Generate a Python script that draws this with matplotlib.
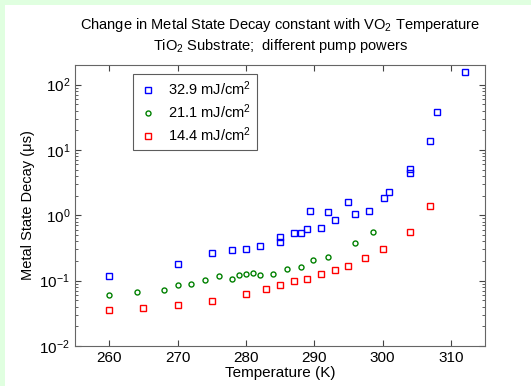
import numpy as np
import matplotlib
matplotlib.use("Agg")
import matplotlib.pyplot as plt
from matplotlib.patches import Rectangle

plt.rcParams['font.family'] = ['Liberation Sans', 'DejaVu Sans']
plt.rcParams['mathtext.fontset'] = 'custom'
plt.rcParams['mathtext.rm'] = 'Liberation Sans'
plt.rcParams['mathtext.it'] = 'Liberation Sans:italic'

# decay constants (us) vs temperature (K) for three pump fluences
t_hi = [260, 270, 275, 278, 280, 282, 285, 285, 287, 288, 289, 289.4, 291, 292,
        293, 295, 296, 298, 300.2, 301, 304, 304, 307, 308, 312]
tau_hi = [0.116, 0.183, 0.263, 0.297, 0.31, 0.337, 0.459, 0.389, 0.53, 0.54, 0.62,
          1.18, 0.64, 1.11, 0.84, 1.58, 1.04, 1.18, 1.85, 2.28, 5.1, 4.4, 13.6, 38.5, 159]

t_mid = [260, 264, 268, 270, 272, 274, 276, 278, 279, 280, 281, 282, 284, 286,
         288, 289.8, 292, 296, 298.6]
tau_mid = [0.0594, 0.066, 0.0727, 0.0868, 0.089, 0.101, 0.118, 0.107, 0.121, 0.127,
           0.13, 0.121, 0.128, 0.153, 0.164, 0.205, 0.231, 0.371, 0.547]

t_lo = [260, 265, 270, 275, 280, 283, 285, 287, 289, 291, 293, 295, 297.5, 300, 304, 307]
tau_lo = [0.035, 0.0384, 0.0423, 0.0487, 0.0624, 0.0753, 0.0859, 0.099, 0.107, 0.125,
          0.148, 0.168, 0.22, 0.303, 0.553, 1.39]

labels = ['32.9 mJ/cm$^2$', '21.1 mJ/cm$^2$', '14.4 mJ/cm$^2$']
x_ticks = [260, 270, 280, 290, 300, 310]

fig = plt.figure(figsize=(5.31, 3.86), dpi=100)
fig.patch.set_facecolor('white')
# light green frame strips on the top and left edges
fig.patches.append(Rectangle((0, 0), 5 / 531, 1, transform=fig.transFigure,
                             facecolor='#e0ffe0', edgecolor='none', zorder=-1))
fig.patches.append(Rectangle((0, 1 - 5 / 386), 1, 5 / 386, transform=fig.transFigure,
                             facecolor='#e0ffe0', edgecolor='none', zorder=-1))

ax = fig.add_axes([75 / 531, 1 - 346 / 386, 410 / 531, 281 / 386])
ax.semilogy(t_hi, tau_hi, 's', ms=4.6, mfc='none', mec=(0, 0, 1), mew=1.0, label=labels[0])
ax.semilogy(t_mid, tau_mid, 'o', ms=3.6, mfc='none', mec=(0, 0.5, 0), mew=1.0, label=labels[1])
ax.semilogy(t_lo, tau_lo, 's', ms=4.6, mfc='none', mec=(1, 0, 0), mew=1.0, label=labels[2])

ax.set_xlim(255, 315)
ax.set_ylim(0.01, 200)
ax.set_xticks(x_ticks)
ax.tick_params(which='both', direction='in', top=True, right=True, labelsize=11,
               color='#444444')
ax.tick_params(which='major', length=4)
ax.tick_params(which='minor', length=2)
ax.tick_params(axis='x', which='minor', top=False, bottom=False)
for s in ax.spines.values():
    s.set_color('#666666')

ax.set_xlabel('Temperature (K)', fontsize=11, labelpad=1)
ax.set_ylabel('Metal State Decay (\u03bcs)', fontsize=10.5, labelpad=3)
ax.set_title('Change in Metal State Decay constant with VO$_2$ Temperature\n'
             'TiO$_2$ Substrate;  different pump powers', fontsize=10.5, pad=11)

leg = ax.legend(loc='upper left', bbox_to_anchor=(0.1415, 0.968), borderaxespad=0,
                fancybox=False, edgecolor='#333333', fontsize=10.5, handlelength=1.2,
                handletextpad=0.8, borderpad=0.4, labelspacing=0.3)
leg.get_frame().set_linewidth(0.8)

fig.savefig('out.png', dpi=100)
